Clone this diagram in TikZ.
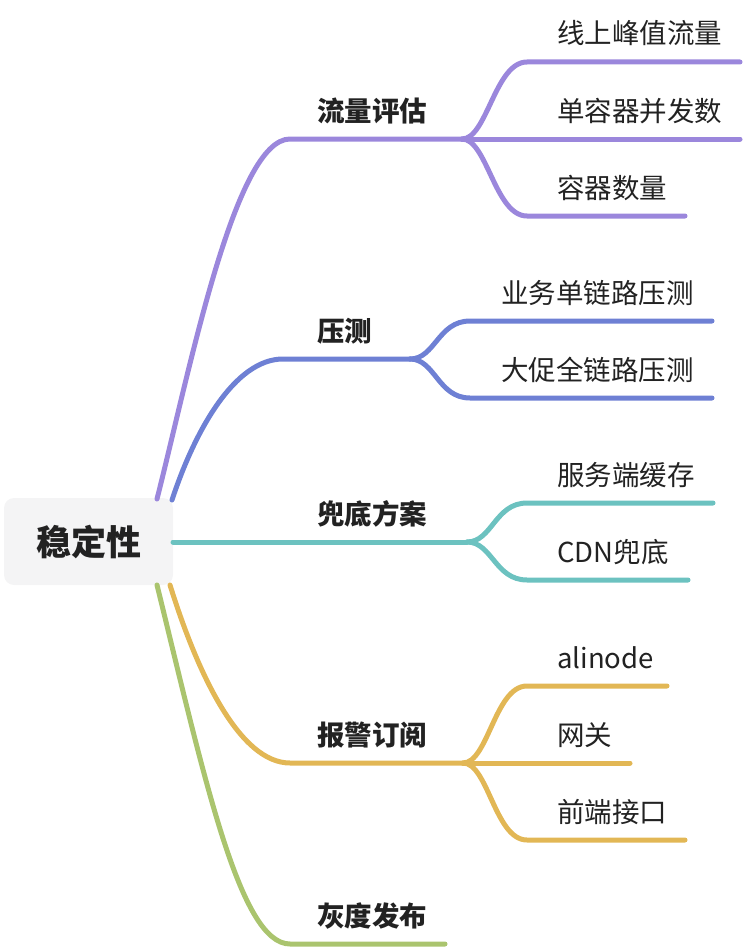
\documentclass[tikz,border=0pt]{standalone}
\usepackage{fontspec}
\setmainfont{Noto Sans CJK SC}
\usetikzlibrary{calc}
\definecolor{cpur}{RGB}{155,135,220}
\definecolor{cblu}{RGB}{110,128,212}
\definecolor{ctea}{RGB}{108,194,192}
\definecolor{cyel}{RGB}{226,183,85}
\definecolor{cgre}{RGB}{170,196,110}
\definecolor{rootfill}{RGB}{244,244,245}
\definecolor{txt}{RGB}{34,34,34}
\tikzset{
  br/.style={line width=5pt, line cap=round},
  lone/.style={anchor=base west, font=\fontsize{27.5}{32}\selectfont\bfseries, text=txt, inner sep=0pt},
  ltwo/.style={anchor=base west, font=\fontsize{27.5}{32}\selectfont, text=txt, inner sep=0pt},
  rootbox/.style={fill=rootfill, rounded corners=10pt, minimum width=169pt, minimum height=87pt, font=\fontsize{35}{40}\selectfont\bfseries, text=txt},
}
\begin{document}
\begin{tikzpicture}[x=1pt,y=-1pt]
\useasboundingbox (0,0) rectangle (744,950);
% root
\node[rootbox] (root) at (88.5,541.5) {稳定性};
% start points on root
\coordinate (s1) at (157,499);
\coordinate (s2) at (172,500);
\coordinate (s3) at (173,542);
\coordinate (s4) at (170,585);
\coordinate (s5) at (157,585);
% level-1 horizontal starts and forks
\coordinate (h1) at (290,139);  \coordinate (f1) at (462,139);
\coordinate (h2) at (283,359);  \coordinate (f2) at (410,359);
\coordinate (f3) at (467,542);
\coordinate (h4) at (290,763);  \coordinate (f4) at (463,763);
\coordinate (h5) at (290,944);  \coordinate (e5) at (445,944);
% level-1 labels
\node[lone] (n1) at (317,121) {流量评估};
\node[lone] (n2) at (317,341) {压测};
\node[lone] (n3) at (317,524) {兜底方案};
\node[lone] (n4) at (317,745) {报警订阅};
\node[lone] (n5) at (317,926) {灰度发布};
% level-1 branches
\draw[br,cpur] (s1) .. controls +(33,-130) and +(-55,0) .. (h1) -- (f1);
\draw[br,cblu] (s2) .. controls +(23,-70) and +(-48,0) .. (h2) -- (f2);
\draw[br,ctea] (s3) -- (f3);
\draw[br,cyel] (s4) .. controls +(28,90) and +(-50,0) .. (h4) -- (f4);
\draw[br,cgre] (s5) .. controls +(48,195) and +(-50,0) .. (h5) -- (e5);
% purple children
\coordinate (a1) at (527,62);  \coordinate (b1) at (740,62);
\coordinate (b2) at (740,139);
\coordinate (a3) at (527,216); \coordinate (b3) at (685,216);
\draw[br,cpur] (f1) .. controls +(25,0) and +(-32,0) .. (a1) -- (b1);
\draw[br,cpur] (f1) -- (b2);
\draw[br,cpur] (f1) .. controls +(25,0) and +(-32,0) .. (a3) -- (b3);
\node[ltwo] (t11) at (557,44) {线上峰值流量};
\node[ltwo] (t12) at (557,121) {单容器并发数};
\node[ltwo] (t13) at (557,198) {容器数量};
% blue children
\coordinate (a21) at (470,321); \coordinate (b21) at (712,321);
\coordinate (a22) at (470,398); \coordinate (b22) at (712,398);
\draw[br,cblu] (f2) .. controls +(25,0) and +(-32,0) .. (a21) -- (b21);
\draw[br,cblu] (f2) .. controls +(25,0) and +(-32,0) .. (a22) -- (b22);
\node[ltwo] (t21) at (501,303) {业务单链路压测};
\node[ltwo] (t22) at (501,380) {大促全链路压测};
% teal children
\coordinate (a31) at (527,503); \coordinate (b31) at (713,503);
\coordinate (a32) at (527,580); \coordinate (b32) at (688,580);
\draw[br,ctea] (f3) .. controls +(25,0) and +(-32,0) .. (a31) -- (b31);
\draw[br,ctea] (f3) .. controls +(25,0) and +(-32,0) .. (a32) -- (b32);
\node[ltwo] (t31) at (557,485) {服务端缓存};
\node[ltwo] (t32) at (557,562) {CDN兜底};
% yellow children
\coordinate (a41) at (527,686); \coordinate (b41) at (667,686);
\coordinate (b42) at (630,763);
\coordinate (a43) at (527,840); \coordinate (b43) at (685,840);
\draw[br,cyel] (f4) .. controls +(25,0) and +(-32,0) .. (a41) -- (b41);
\draw[br,cyel] (f4) -- (b42);
\draw[br,cyel] (f4) .. controls +(25,0) and +(-32,0) .. (a43) -- (b43);
\node[ltwo] (t41) at (557,668) {alinode};
\node[ltwo] (t42) at (557,745) {网关};
\node[ltwo] (t43) at (557,822) {前端接口};
\end{tikzpicture}
\end{document}
